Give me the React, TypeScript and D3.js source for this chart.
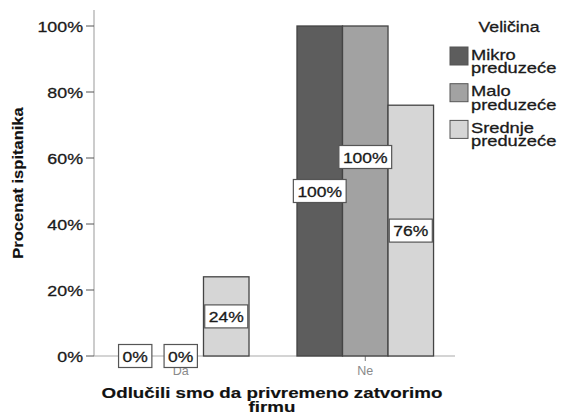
import React from 'react';
import * as d3 from 'd3';

const categories = ['Da', 'Ne'];
const seriesKeys = ['Mikro preduzeće', 'Malo preduzeće', 'Srednje preduzeće'];
const legendLines = [['Mikro', 'preduzeće'], ['Malo', 'preduzeće'], ['Srednje', 'preduzeće']];
const mikroValues = [0, 100];
const maloValues = [0, 100];
const srednjeValues = [24, 76];
const yTickValues = [0, 20, 40, 60, 80, 100];
const seriesColors = ['#5d5d5d', '#a2a2a2', '#d6d6d6'];
const legendTitle = 'Veličina';
const yTitle = 'Procenat ispitanika';
const xTitleLines = ['Odlučili smo da privremeno zatvorimo', 'firmu'];

const FONT = '"Liberation Sans", Arial, sans-serif';
const W = 562;
const H = 419;

function measure(text: string, size: number, weight = 'normal') {
  if (typeof document === 'undefined') return text.length * size * 0.6;
  const c = document.createElement('canvas');
  const ctx = c.getContext('2d');
  if (!ctx) return text.length * size * 0.6;
  ctx.font = `${weight} ${size}px "Liberation Sans", Arial, sans-serif`;
  return ctx.measureText(text).width;
}

type STextProps = {
  x: number;
  y: number;
  size: number;
  sx?: number;
  anchor?: 'start' | 'middle' | 'end';
  weight?: string;
  fill?: string;
  rotate?: number;
  dy?: string;
  children: React.ReactNode;
};

function SText({ x, y, size, sx = 1, anchor = 'start', weight = 'normal', fill = '#1a1a1a', rotate = 0, dy, children }: STextProps) {
  return (
    <g transform={`translate(${x},${y}) rotate(${rotate}) scale(${sx},1)`}>
      <text
        x={0}
        y={0}
        dy={dy}
        textAnchor={anchor}
        fontFamily={FONT}
        fontSize={size}
        fontWeight={weight}
        fill={fill}
        stroke={fill}
        strokeWidth={weight === 'bold' ? 0.15 : 0.3}
      >
        {children}
      </text>
    </g>
  );
}

export default function App() {
  const series = [mikroValues, maloValues, srednjeValues];
  const x0 = d3.scaleBand<string>().domain(categories).range([94, 452]).paddingInner(0.26).paddingOuter(0.1);
  const x1 = d3.scaleBand<number>().domain(d3.range(seriesKeys.length)).range([0, x0.bandwidth()]);
  const y = d3.scaleLinear().domain([0, 100]).range([356, 26]);
  const labelSize = 15.5;
  const labelSx = 1.13;
  const boxH = 23;

  type Lab = { cx: number; cy: number; w: number; text: string };
  const labels: Lab[] = [];
  categories.forEach((cat, ci) => {
    const placed: Lab[] = [];
    series.forEach((vals, si) => {
      const v = vals[ci];
      const text = `${v}%`;
      const w = measure(text, labelSize) * labelSx + 8;
      const cx = (x0(cat) as number) + (x1(si) as number) + x1.bandwidth() / 2;
      let cy = (y(v) + y(0)) / 2;
      for (const p of placed) {
        const hOverlap = Math.abs(p.cx - cx) < (p.w + w) / 2;
        const vOverlap = Math.abs(p.cy - cy) < boxH;
        if (hOverlap && vOverlap) cy = p.cy - boxH - 11;
      }
      const lab = { cx, cy, w, text };
      placed.push(lab);
      labels.push(lab);
    });
  });

  return (
    <svg width={W} height={H} style={{ position: 'absolute', left: 0, top: 0, background: '#fff' }}>
      {/* axes */}
      <line x1={94} x2={94} y1={10} y2={356} stroke="#aaa" strokeWidth={1.2} />
      <line x1={94} x2={455} y1={356} y2={356} stroke="#aaa" strokeWidth={1.2} />
      {yTickValues.map((t) => (
        <g key={t}>
          <line x1={86} x2={94} y1={y(t)} y2={y(t)} stroke="#555" strokeWidth={1} />
          <SText x={83} y={y(t)} dy="0.36em" anchor="end" size={15.5} sx={1.15}>
            {`${t}%`}
          </SText>
        </g>
      ))}
      {categories.map((c) => {
        const cx = (x0(c) as number) + x0.bandwidth() / 2;
        return (
          <g key={c}>
            <line x1={cx} x2={cx} y1={356} y2={361} stroke="#777" />
            <text x={cx} y={375} textAnchor="middle" fontFamily={FONT} fontSize={12.5} fill="#8a8a8a">
              {c}
            </text>
          </g>
        );
      })}
      {/* bars */}
      {categories.map((cat, ci) =>
        series.map((vals, si) => {
          const v = vals[ci];
          const bx = (x0(cat) as number) + (x1(si) as number);
          return (
            <rect
              key={`${cat}-${si}`}
              x={bx}
              y={y(v)}
              width={x1.bandwidth()}
              height={y(0) - y(v)}
              fill={seriesColors[si]}
              stroke="#444"
              strokeWidth={1.3}
            />
          );
        })
      )}
      {/* labels */}
      {labels.map((l, i) => (
        <g key={i}>
          <rect x={l.cx - l.w / 2} y={l.cy - boxH / 2} width={l.w} height={boxH} fill="#fff" stroke="#555" strokeWidth={1.2} />
          <SText x={l.cx} y={l.cy} dy="0.36em" anchor="middle" size={labelSize} sx={labelSx}>
            {l.text}
          </SText>
        </g>
      ))}
      {/* y title */}
      <SText x={23} y={183} rotate={-90} anchor="middle" size={14} sx={1.18} weight="bold" fill="#111">
        {yTitle}
      </SText>
      {/* x title */}
      {xTitleLines.map((t, i) => (
        <SText key={i} x={272} y={398 + i * 14} anchor="middle" size={14} sx={1.34} weight="bold" fill="#111">
          {t}
        </SText>
      ))}
      {/* legend */}
      <SText x={509} y={32} anchor="middle" size={15} sx={1.18}>
        {legendTitle}
      </SText>
      {seriesKeys.map((k, i) => (
        <g key={k} transform={`translate(450,${47 + i * 36.7})`}>
          <rect x={0} y={0} width={18} height={18} fill={seriesColors[i]} stroke="#555" strokeWidth={1} />
          <SText x={21} y={12.5} size={15.5} sx={1.18}>
            {legendLines[i][0]}
          </SText>
          <SText x={21} y={26} size={15.5} sx={1.18}>
            {legendLines[i][1]}
          </SText>
        </g>
      ))}
    </svg>
  );
}
